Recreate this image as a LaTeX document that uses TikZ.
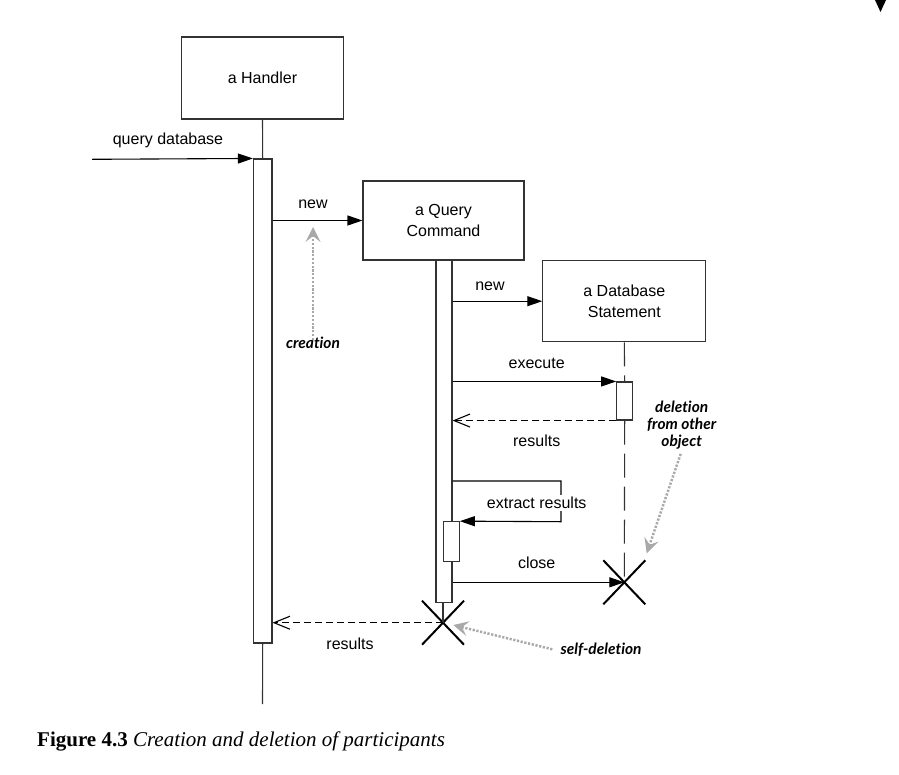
\documentclass[tikz,border=0pt]{standalone}
\usepackage{fontspec}
\setmainfont{Liberation Serif}
\newfontfamily\diagfont{Liberation Sans}
\newfontfamily\notefont[Ligatures={NoCommon,NoRare}]{Lato}
\usetikzlibrary{arrows.meta,shapes.misc}
\definecolor{notegray}{HTML}{A9A9A9}
\definecolor{linegray}{HTML}{333333}
\tikzset{
  obj/.style={draw=linegray, line width=1.1pt, fill=white, inner sep=0pt, align=center,
     font=\diagfont\fontsize{16}{21}\selectfont},
  actbar/.style={draw=linegray, line width=1.1pt, fill=white, inner sep=0pt, minimum width=#1},
  lifeline/.style={draw=linegray, line width=1.1pt},
  dashlife/.style={draw=linegray, line width=1.1pt, dash pattern=on 24pt off 9pt},
  msg/.style={draw=black, line width=1.1pt, -{Triangle[length=15pt,width=10pt]}},
  ret/.style={draw=black, line width=1.1pt, dash pattern=on 7pt off 4pt,
     -{Straight Barb[length=16pt,width=13pt,line width=1.1pt]}},
  lbl/.style={font=\diagfont\fontsize{16}{21}\selectfont, inner sep=0pt},
  note/.style={font=\notefont\bfseries\itshape\fontsize{15.5}{17}\selectfont, inner sep=1pt, align=center},
  notearrow/.style={draw=notegray, line width=2.5pt, dash pattern=on 2.2pt off 1.6pt,
     -{Stealth[length=15pt,width=15pt,inset=6pt,fill=notegray,line width=0pt]}},
  xmark/.style={cross out, draw=black, line width=2pt, minimum width=40pt, minimum height=42pt, inner sep=0pt},
}
\begin{document}
\begin{tikzpicture}[x=1pt,y=-1pt]
\useasboundingbox (0,0) rectangle (899,774);
% top-right triangle
\fill (875,0) -- (886,0) -- (880.5,12) -- cycle;

% participants
\node[obj, minimum width=162pt, minimum height=82pt] (h) at (262.5,78) {a Handler};
\node[obj, minimum width=161pt, minimum height=79pt] (qc) at (443.5,220.5) {a Query\\Command};
\node[obj, minimum width=163pt, minimum height=81pt] (db) at (624.3,301.2) {a Database\\Statement};

% activation bars
\node[actbar=18.5pt, minimum height=484pt] (hact) at (262.7,401) {};
\node[actbar=16pt, minimum height=342.5pt] (qcact) at (444,431.4) {};
\node[actbar=16pt, minimum height=38pt] (dbact) at (624.7,401) {};
\node[actbar=16pt, minimum height=40pt] (nact) at (451.3,541.7) {};

% destruction marks
\node[xmark] (xdb) at (624.3,582.3) {};
\node[xmark] (xqc) at (443,622.7) {};

% free ends
\coordinate (qstart) at (92,159.3);
\coordinate (hend) at (262.5,704);
\coordinate (sc1) at (561,481);
\coordinate (sc2) at (561,521.7);

% lifelines
\draw[lifeline] (h.south) -- (hact.north);
\draw[lifeline] (hact.south) -- (hend);
\draw[lifeline] (qcact.south -| xqc) -- (xqc.center);
\draw[dashlife] (db.south) -- (dbact.north);
\draw[dashlife] (dbact.south) -- (xdb.center);

% messages
\draw[msg] (qstart) -- (hact.north west);
\node[lbl] at (168,140) {query database};

\draw[msg] (qc.west -| hact.east) -- (qc.west);
\node[lbl] at (313,204) {new};

\draw[msg] (db.west -| qcact.east) -- (db.west);
\node[lbl] at (490,286) {new};

\draw[msg] (dbact.north west -| qcact.east) -- (dbact.north west);
\node[lbl] at (536.7,363) {execute};

\draw[ret] (dbact.south west) -- (dbact.south west -| qcact.east);
\node[lbl] at (536.7,441) {results};

\draw[msg] (qcact.east |- sc1) -- (sc1) -- (sc2) -- (nact.north east);
\node[lbl, fill=white, inner sep=2pt] at (536.7,503) {extract results};

\draw[msg] (qcact.east |- xdb) -- (xdb.center);
\node[lbl] at (536.7,563) {close};

\draw[ret] (xqc.center) -- (xqc.center -| hact.east);
\node[lbl] at (350,644) {results};

% notes
\node[note] (cre) at (313,343) {creation};
\coordinate (creTip) at (313,227);
\draw[notearrow] ([yshift=-4pt]cre.north) -- (creTip);

\node[note] (del) at (681.7,425.5) {deletion\\from other\\object};
\coordinate (delTip) at (646.7,553.3);
\draw[notearrow] ([xshift=-1pt,yshift=-3pt]del.south) -- (delTip);

\node[note] (sd) at (601,649.3) {self-deletion};
\coordinate (sdTip) at (453.3,625);
\draw[notearrow] ([xshift=-7pt]sd.west) -- (sdTip);

% caption
\node[anchor=base west, inner sep=0pt, font=\fontsize{21}{25}\selectfont] (cap) at (37,746)
  {\textbf{Figure 4.3} \textit{Creation and deletion of participants}};
\end{tikzpicture}
\end{document}
